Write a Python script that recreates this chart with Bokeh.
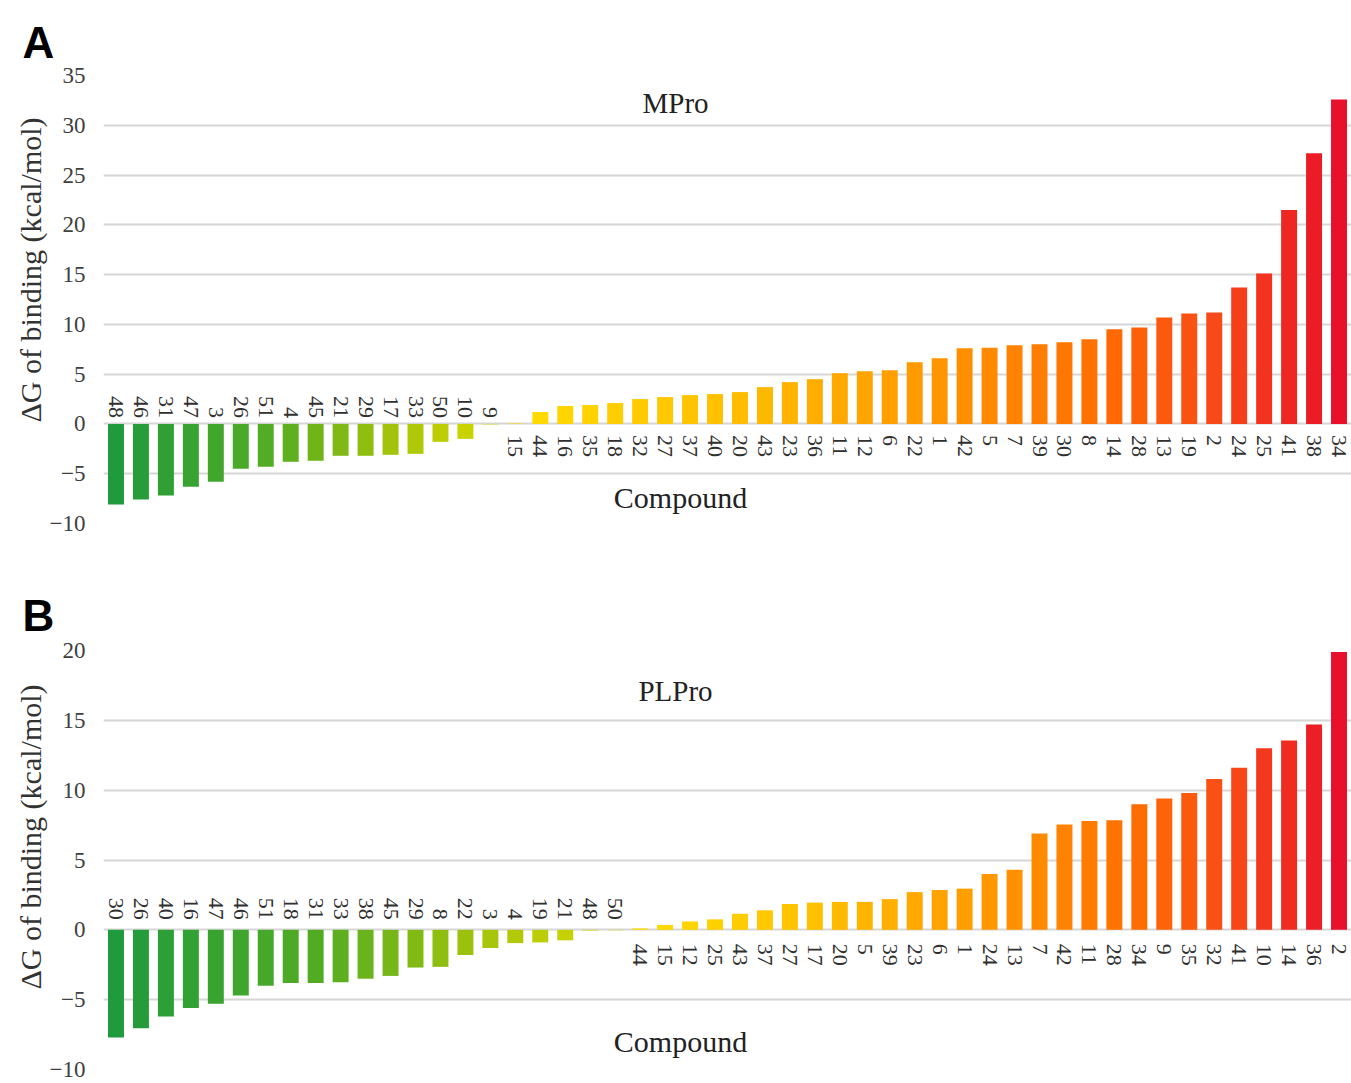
import numpy as np
from bokeh.plotting import figure
from bokeh.models import ColumnDataSource, Label, Range1d, FixedTicker, Title
from bokeh.layouts import column
from bokeh.embed import file_html
from bokeh.resources import INLINE
from bokeh.core.properties import value

# ---------------- data ----------------
mpro_compounds = ["48", "46", "31", "47", "3", "26", "51", "4", "45", "21", "29", "17", "33", "50", "10", "9",
                  "15", "44", "16", "35", "18", "32", "27", "37", "40", "20", "43", "23", "36", "11", "12", "6",
                  "22", "1", "42", "5", "7", "39", "30", "8", "14", "28", "13", "19", "2", "24", "25", "41", "38", "34"]
mpro_values = [-8.1, -7.6, -7.2, -6.3, -5.8, -4.5, -4.3, -3.8, -3.7, -3.2, -3.2, -3.1, -3.0, -1.8, -1.5, -0.05,
               0.05, 1.2, 1.8, 1.9, 2.1, 2.5, 2.7, 2.9, 3.0, 3.2, 3.7, 4.2, 4.5, 5.1, 5.3, 5.4,
               6.2, 6.6, 7.6, 7.65, 7.9, 8.0, 8.2, 8.5, 9.5, 9.7, 10.7, 11.1, 11.2, 13.7, 15.1, 21.5, 27.2, 32.6]

plpro_compounds = ["30", "26", "40", "16", "47", "46", "51", "18", "31", "33", "38", "45", "29", "8", "22", "3",
                   "4", "19", "21", "48", "50", "44", "15", "12", "25", "43", "37", "27", "17", "20", "5", "39",
                   "23", "6", "1", "24", "13", "7", "42", "11", "28", "34", "9", "35", "32", "41", "10", "14", "36", "2"]
plpro_values = [-7.7, -7.05, -6.2, -5.6, -5.3, -4.7, -4.0, -3.8, -3.8, -3.75, -3.5, -3.3, -2.7, -2.65, -1.8, -1.3,
                -0.95, -0.9, -0.75, -0.05, -0.03, 0.1, 0.35, 0.6, 0.75, 1.15, 1.4, 1.85, 1.95, 2.0, 2.0, 2.2,
                2.7, 2.85, 2.95, 4.0, 4.3, 6.9, 7.55, 7.8, 7.85, 9.0, 9.4, 9.8, 10.8, 11.6, 13.0, 13.55, 14.7, 19.9]

mpro_ticks = [-10, -5, 0, 5, 10, 15, 20, 25, 30, 35]
plpro_ticks = [-10, -5, 0, 5, 10, 15, 20]

# ---------------- colours ----------------
NEG_STOPS = [(0.0, "#1f9a3c"), (0.4, "#55ad22"), (0.7, "#a4c40a"), (0.88, "#cad300"), (1.0, "#f2e000")]
POS_STOPS = [(0.0, "#ffdc00"), (0.25, "#ffc000"), (0.5, "#ff9800"), (0.7, "#ff7000"), (0.85, "#f84a18"), (1.0, "#e8102a")]


def hex2rgb(h):
    h = h.lstrip("#")
    return [int(h[i:i + 2], 16) for i in (0, 2, 4)]


def interp(stops, t):
    t = min(max(t, 0.0), 1.0)
    for (t0, c0), (t1, c1) in zip(stops[:-1], stops[1:]):
        if t <= t1:
            f = 0 if t1 == t0 else (t - t0) / (t1 - t0)
            a, b = hex2rgb(c0), hex2rgb(c1)
            return "#%02x%02x%02x" % tuple(int(round(a[k] + (b[k] - a[k]) * f)) for k in range(3))
    return stops[-1][1]


def bar_colors(vals):
    n = len(vals)
    k = next(i for i, v in enumerate(vals) if v > 0)
    out = []
    for i in range(n):
        if i < k:
            out.append(interp(NEG_STOPS, i / k))
        else:
            out.append(interp(POS_STOPS, (i - k) / max(1, n - 1 - k)))
    return out


SERIF = "Liberation Serif"


def make_panel(cats, vals, ticks, height, border_top, border_bottom, letter, letter_standoff,
               name, name_y, comp_y, ylabel_offset, neg_off, pos_off):
    n = len(vals)
    p = figure(width=1351, height=height, x_range=Range1d(-0.5, n - 0.5),
               y_range=Range1d(ticks[0], ticks[-1]), output_backend="svg",
               toolbar_location=None, x_axis_location=None,
               min_border_left=103, min_border_right=0,
               min_border_top=border_top, min_border_bottom=border_bottom)
    p.outline_line_color = None
    p.background_fill_color = "white"
    p.border_fill_color = "white"

    ax = p.yaxis[0]
    ax.ticker = FixedTicker(ticks=ticks)
    ax.axis_line_color = None
    ax.major_tick_line_color = None
    ax.minor_tick_line_color = None
    ax.major_label_text_font = SERIF
    ax.major_label_text_font_size = "23px"
    ax.major_label_text_color = "#404040"
    ax.major_label_standoff = 12

    p.xgrid.grid_line_color = None
    p.ygrid.ticker = FixedTicker(ticks=ticks)
    p.ygrid.grid_line_color = "#d6d6d6"
    p.ygrid.grid_line_width = 2

    xs = list(range(n))
    src = ColumnDataSource(dict(x=xs, top=vals, color=bar_colors(vals), label=cats))
    p.vbar(x="x", top="top", bottom=0, width=0.64, fill_color="color", line_color=None, source=src)

    neg_idx = [i for i, v in enumerate(vals) if v <= 0]
    pos_idx = [i for i, v in enumerate(vals) if v > 0]
    for idx, align, off in ((neg_idx, "right", neg_off), (pos_idx, "left", pos_off)):
        s = ColumnDataSource(dict(x=[xs[i] for i in idx], y=[0] * len(idx), t=[cats[i] for i in idx]))
        p.text(x="x", y="y", text="t", source=s, angle=-np.pi / 2, y_offset=off,
               text_align=align, text_baseline="middle", text_font=value(SERIF),
               text_font_size="22px", text_color="#303030")

    # panel letter (A / B) above the frame, shifted to the page's left edge
    p.add_layout(Title(text=letter, align="left", offset=-81, standoff=letter_standoff,
                       text_font="Liberation Sans", text_font_style="bold",
                       text_font_size="44px", text_color="black"), "above")
    # y-axis title
    p.add_layout(Title(text="\u0394G of binding (kcal/mol)", align="left", offset=ylabel_offset,
                       standoff=0, text_font=SERIF, text_font_style="normal",
                       text_font_size="30px", text_color="#333333"), "left")

    p.add_layout(Label(x=572, y=name_y, x_units="screen", y_units="screen", text=name,
                       text_font=SERIF, text_font_size="29px", text_color="#222222",
                       text_align="center", text_baseline="middle"))
    p.add_layout(Label(x=577, y=comp_y, x_units="screen", y_units="screen", text="Compound",
                       text_font=SERIF, text_font_size="30px", text_color="#222222",
                       text_align="center", text_baseline="middle"))
    return p


pa = make_panel(mpro_compounds, mpro_values, mpro_ticks, 560, 75, 37, "A", 18,
                "MPro", 421, 26, 101, -6, 11)
pb = make_panel(plpro_compounds, plpro_values, plpro_ticks, 523, 90, 14, "B", 22,
                "PLPro", 379, 28, 80, -10, 14)

layout = column(pa, pb, spacing=0)
open("out.html", "w").write(file_html(layout, INLINE))
